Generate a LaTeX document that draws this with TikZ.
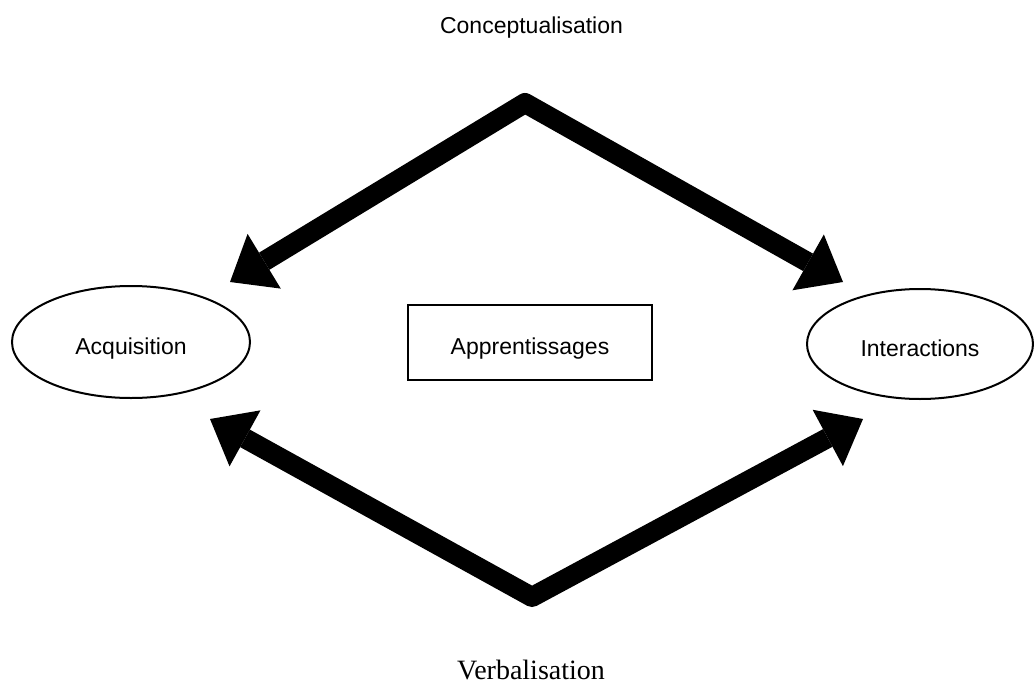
\documentclass[tikz,border=0pt]{standalone}
\usepackage{fontspec}
\setmainfont{Liberation Sans}
\newfontfamily\serifface{Liberation Serif}
\usetikzlibrary{shapes.geometric,arrows.meta}
\begin{document}
\begin{tikzpicture}[x=1pt,y=-1pt,
  labeltext/.style={font=\fontsize{23}{27}\selectfont, inner sep=0pt},
  boxtext/.style={labeltext, text height=24pt, text depth=0pt},
  pole/.style={draw, line width=2pt, ellipse, inner sep=0pt, boxtext},
  centrebox/.style={draw, line width=2pt, rectangle, inner sep=0pt, boxtext},
  bigarrow/.style={line width=20pt, line join=round,
    {Triangle[length=40pt,width=64pt,line width=0pt]}-{Triangle[length=40pt,width=64pt,line width=0pt]}}]
  \useasboundingbox (0,0) rectangle (1034,688);

  % the two poles and the central box
  \node[pole, minimum width=238pt, minimum height=112pt] (acq) at (131,342) {Acquisition};
  \node[pole, minimum width=226pt, minimum height=110pt] (int) at (920,344) {Interactions};
  \node[centrebox, minimum width=244pt, minimum height=75pt] (app) at (530,342.5) {Apprentissages};

  % titles above and below
  \node[labeltext, anchor=base] (concept) at (531.5,33) {Conceptualisation};
  \node[font=\serifface\fontsize{28}{32}\selectfont, inner sep=0pt, anchor=base] (verbal) at (531,679) {Verbalisation};

  % apexes and arrow tips
  \coordinate (topapex) at (525,103);
  \coordinate (botapex) at (532,597);
  \coordinate (tipTL) at (230,282);
  \coordinate (tipTR) at (843,282);
  \coordinate (tipBL) at (210,419);
  \coordinate (tipBR) at (863,419);

  % the two double-headed bent arrows
  \draw[bigarrow] (tipTL) -- (topapex) -- (tipTR);
  \draw[bigarrow] (tipBL) -- (botapex) -- (tipBR);
\end{tikzpicture}
\end{document}
